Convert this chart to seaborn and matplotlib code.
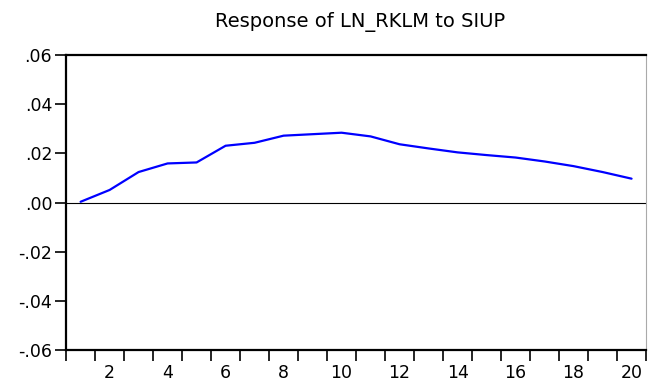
import numpy as np
import pandas as pd
import matplotlib
matplotlib.use("Agg")
import matplotlib.pyplot as plt
import seaborn as sns

# impulse response values
periods = list(range(1, 21))
response = [0.0003, 0.0051, 0.0124, 0.0159, 0.0163, 0.0231, 0.0243, 0.0272, 0.0278, 0.0284,
            0.0269, 0.0237, 0.0220, 0.0204, 0.0193, 0.0183, 0.0167, 0.0148, 0.0124, 0.0097]
y_ticks = [-0.06, -0.04, -0.02, 0.0, 0.02, 0.04, 0.06]
y_labels = ["-.06", "-.04", "-.02", ".00", ".02", ".04", ".06"]
x_labels = [2, 4, 6, 8, 10, 12, 14, 16, 18, 20]

df = pd.DataFrame({"period": periods, "response": response})

sns.set_style("white")
plt.rcParams["font.family"] = ["DejaVu Sans"]
plt.rcParams["text.color"] = "black"
plt.rcParams["xtick.color"] = "black"
plt.rcParams["ytick.color"] = "black"
plt.rcParams["xtick.labelcolor"] = "black"
plt.rcParams["ytick.labelcolor"] = "black"

fig = plt.figure(figsize=(6.48, 3.85), dpi=100)
ax = fig.add_axes([0.102, 0.091, 0.895, 0.766])

ax.axhline(0, color="black", lw=0.8, zorder=1)
sns.lineplot(data=df, x="period", y="response", color="#0000ff", lw=1.6, ax=ax, zorder=3)

ax.set_xlim(0.5, 20.5)
ax.set_ylim(-0.06, 0.06)

# ticks at period boundaries, labels on even periods
ax.set_xticks(np.arange(0.5, 21, 1))
ax.set_xticklabels([])
ax.set_xticks(x_labels, minor=True)
ax.set_xticklabels([str(v) for v in x_labels], minor=True)
ax.tick_params(axis="x", which="major", direction="out", length=8, width=1.2, bottom=True, color="black")
ax.tick_params(axis="x", which="minor", length=0, labelsize=12.5, pad=10, labelcolor="black")

ax.set_yticks(y_ticks)
ax.set_yticklabels(y_labels)
ax.tick_params(axis="y", direction="out", length=8, width=1.2, left=True, labelsize=12.5, pad=2,
               color="black", labelcolor="black")

for side in ["left", "bottom", "top"]:
    ax.spines[side].set_color("black")
    ax.spines[side].set_linewidth(1.6)
ax.spines["right"].set_color("#aaaaaa")
ax.spines["right"].set_linewidth(0.8)

ax.set_xlabel("")
ax.set_ylabel("")
fig.text(0.556, 0.942, "Response of LN_RKLM to SIUP", ha="center", va="center", fontsize=14, color="black")

fig.savefig("out.png", dpi=100)
